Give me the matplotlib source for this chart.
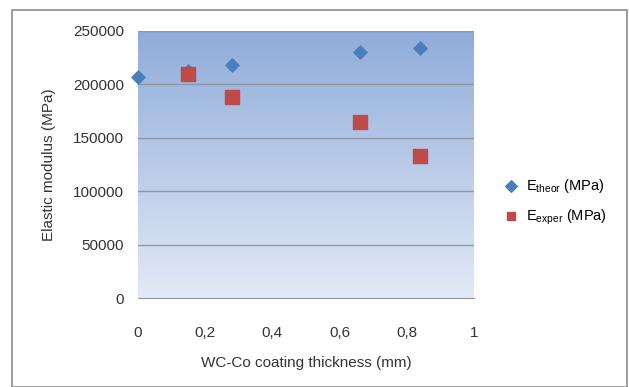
import numpy as np
import matplotlib
matplotlib.use('Agg')
import matplotlib.pyplot as plt
from matplotlib.patches import Rectangle

plt.rcParams['font.family'] = ['Liberation Sans', 'DejaVu Sans']
plt.rcParams['mathtext.fontset'] = 'custom'
plt.rcParams['mathtext.rm'] = 'Liberation Sans'

thickness_theor = [0, 0.15, 0.28, 0.66, 0.84]
e_theor = [207000, 213000, 218000, 230000, 234000]
thickness_exper = [0.15, 0.28, 0.66, 0.84]
e_exper = [209500, 188000, 164500, 133000]
x_ticks = [0, 0.2, 0.4, 0.6, 0.8, 1]
x_tick_labels = ['0', '0,2', '0,4', '0,6', '0,8', '1']
y_ticks = [0, 50000, 100000, 150000, 200000, 250000]

fig = plt.figure(figsize=(6.29, 3.87), dpi=100)
fig.patches.append(Rectangle((12 / 629, 0), 615 / 629, 377 / 387, transform=fig.transFigure,
                             fill=False, edgecolor='#8c8c8c', linewidth=1.2))

ax = fig.add_axes([138 / 629, 1 - 298 / 387, 336 / 629, 267 / 387])

# vertical gradient background
grad = np.linspace(0, 1, 256).reshape(-1, 1)
cmap = matplotlib.colors.LinearSegmentedColormap.from_list('bg', ['#e2e9f6', '#90acda'])
ax.imshow(grad, extent=[0, 1, 0, 1], transform=ax.transAxes, origin='lower',
          aspect='auto', cmap=cmap, zorder=0)

for y in y_ticks[1:]:
    ax.axhline(y, color='#8e97a8', linewidth=1.0, zorder=1)

ax.scatter(thickness_theor, e_theor, marker='D', s=45, color='#4a7ebb', zorder=3,
           label=r'E$_{\mathrm{theor}}$ (MPa)', clip_on=False)
ax.scatter(thickness_exper, e_exper, marker='s', s=110, color='#be4b48', zorder=4,
           label=r'E$_{\mathrm{exper}}$ (MPa)')

ax.set_xlim(0, 1)
ax.set_ylim(0, 250000)
ax.set_xticks(x_ticks)
ax.set_xticklabels(x_tick_labels)
ax.set_yticks(y_ticks)
ax.tick_params(length=0, labelsize=11, colors='#333333', pad=10)
ax.tick_params(axis='x', pad=20)
for s in ['top', 'right', 'left']:
    ax.spines[s].set_visible(False)
ax.spines['bottom'].set_color('#8e97a8')

ax.set_xlabel('WC-Co coating thickness (mm)', fontsize=11, color='#333333', labelpad=12)
ax.set_ylabel('Elastic modulus (MPa)', fontsize=11, color='#333333', labelpad=12)

leg = ax.legend(loc='center left', bbox_to_anchor=(1.06, 0.36), frameon=False, fontsize=10.5,
                handletextpad=0.3, labelspacing=0.8, borderaxespad=0, handlelength=1.5)
for h in leg.legend_handles:
    h.set_sizes([35])

fig.savefig('out.png', dpi=100)
